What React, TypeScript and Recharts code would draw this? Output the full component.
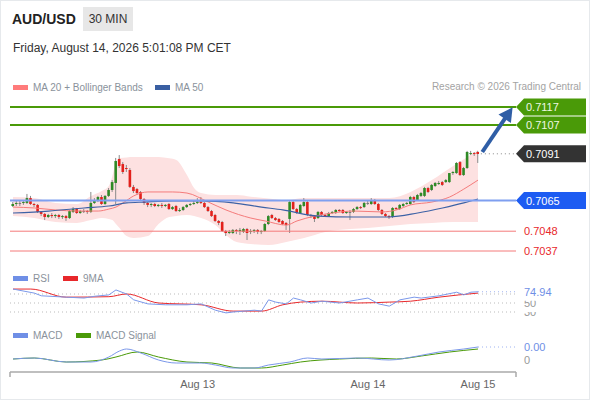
import React from "react";
import { ComposedChart, Bar, Line, Area, XAxis, YAxis, ReferenceLine } from "recharts";

// 30 min candles, [open, high, low, close]
const candles: [number, number, number, number][] = [
  [0.7062, 0.70642, 0.70614, 0.70631],
  [0.70631, 0.70648, 0.7062, 0.70637],
  [0.70637, 0.70653, 0.7062, 0.70637],
  [0.70637, 0.70653, 0.70626, 0.70642],
  [0.70637, 0.70687, 0.70631, 0.70664],
  [0.70664, 0.70676, 0.70626, 0.70631],
  [0.70631, 0.70637, 0.70614, 0.70626],
  [0.70626, 0.70631, 0.70581, 0.70587],
  [0.70587, 0.70592, 0.70564, 0.70576],
  [0.70576, 0.70581, 0.70542, 0.70559],
  [0.70559, 0.70576, 0.70553, 0.7057],
  [0.7057, 0.70581, 0.70553, 0.70564],
  [0.70564, 0.70576, 0.70553, 0.7057],
  [0.7057, 0.70576, 0.70548, 0.70559],
  [0.70559, 0.7057, 0.70548, 0.70564],
  [0.70564, 0.7057, 0.70537, 0.70553],
  [0.70553, 0.70598, 0.70548, 0.70592],
  [0.70587, 0.70614, 0.70581, 0.70603],
  [0.70603, 0.70609, 0.70576, 0.70581],
  [0.70581, 0.70598, 0.70576, 0.70592],
  [0.70592, 0.70603, 0.70581, 0.70592],
  [0.70592, 0.70598, 0.70576, 0.70587],
  [0.70587, 0.70698, 0.70581, 0.70637],
  [0.70637, 0.70664, 0.70631, 0.70653],
  [0.70653, 0.70676, 0.70642, 0.7067],
  [0.7067, 0.70681, 0.70626, 0.70631],
  [0.70631, 0.70681, 0.70626, 0.70676],
  [0.70676, 0.7072, 0.7067, 0.70709],
  [0.70709, 0.70764, 0.70698, 0.70753],
  [0.70748, 0.70887, 0.70631, 0.7087],
  [0.70881, 0.70903, 0.70831, 0.70842],
  [0.70853, 0.70864, 0.70798, 0.70809],
  [0.70831, 0.70848, 0.70809, 0.70826],
  [0.7082, 0.70831, 0.7072, 0.70726],
  [0.70726, 0.70737, 0.70692, 0.70703],
  [0.70714, 0.7072, 0.70681, 0.70692],
  [0.70698, 0.70703, 0.70653, 0.70659],
  [0.70659, 0.70664, 0.70626, 0.70637],
  [0.70637, 0.70642, 0.70614, 0.70626],
  [0.70626, 0.70637, 0.70614, 0.70631],
  [0.70631, 0.70637, 0.70614, 0.7062],
  [0.7062, 0.70631, 0.70614, 0.70626],
  [0.70626, 0.70637, 0.70609, 0.7062],
  [0.7062, 0.70631, 0.70614, 0.70626],
  [0.70631, 0.70637, 0.70598, 0.70603],
  [0.70603, 0.7062, 0.70598, 0.70614],
  [0.7062, 0.70626, 0.70587, 0.70592],
  [0.70592, 0.70609, 0.70587, 0.70598],
  [0.70598, 0.7062, 0.70592, 0.70614],
  [0.70614, 0.70631, 0.70609, 0.70626],
  [0.70626, 0.70637, 0.7062, 0.70631],
  [0.70631, 0.70648, 0.70626, 0.70637],
  [0.70637, 0.70664, 0.70631, 0.70642],
  [0.70642, 0.7067, 0.70631, 0.70637],
  [0.70637, 0.70642, 0.70609, 0.70614],
  [0.70614, 0.7062, 0.70587, 0.70592],
  [0.70592, 0.70598, 0.70559, 0.70564],
  [0.7057, 0.70576, 0.70531, 0.70537],
  [0.70537, 0.70542, 0.70514, 0.70526],
  [0.70531, 0.70537, 0.70476, 0.70481],
  [0.70481, 0.70487, 0.70453, 0.7047],
  [0.7047, 0.70487, 0.70464, 0.70476],
  [0.7047, 0.70492, 0.70464, 0.70487],
  [0.70487, 0.70492, 0.70464, 0.70481],
  [0.70481, 0.70498, 0.70459, 0.70487],
  [0.70476, 0.70498, 0.7047, 0.70492],
  [0.70492, 0.70498, 0.70431, 0.7047],
  [0.70476, 0.70492, 0.70464, 0.70481],
  [0.70481, 0.70492, 0.7047, 0.70487],
  [0.70487, 0.70492, 0.70464, 0.70476],
  [0.70476, 0.70487, 0.70464, 0.70481],
  [0.70481, 0.70526, 0.70476, 0.7052],
  [0.7052, 0.7057, 0.70514, 0.70564],
  [0.7057, 0.70576, 0.70548, 0.70553],
  [0.70553, 0.70559, 0.70537, 0.70542],
  [0.70548, 0.70553, 0.70526, 0.70531],
  [0.70537, 0.70542, 0.70514, 0.7052],
  [0.70526, 0.70531, 0.70487, 0.70514],
  [0.70548, 0.70648, 0.7047, 0.70642],
  [0.70642, 0.70648, 0.70598, 0.70603],
  [0.70603, 0.70609, 0.70576, 0.70581],
  [0.70581, 0.70631, 0.70576, 0.70626],
  [0.7062, 0.70664, 0.70614, 0.70642],
  [0.70642, 0.70648, 0.70564, 0.7057],
  [0.7057, 0.70576, 0.70553, 0.70564],
  [0.70564, 0.7057, 0.70531, 0.70548],
  [0.70553, 0.70592, 0.70548, 0.70587],
  [0.70587, 0.70592, 0.70564, 0.7057],
  [0.7057, 0.70576, 0.70559, 0.70564],
  [0.70564, 0.70587, 0.70559, 0.70581],
  [0.70581, 0.70592, 0.70576, 0.70587],
  [0.70581, 0.70603, 0.70576, 0.70598],
  [0.70598, 0.70603, 0.70587, 0.70592],
  [0.70598, 0.70603, 0.70576, 0.70581],
  [0.70581, 0.70592, 0.70576, 0.70587],
  [0.70587, 0.70598, 0.70542, 0.70587],
  [0.70587, 0.70609, 0.70581, 0.70603],
  [0.70603, 0.7062, 0.70598, 0.70614],
  [0.70614, 0.7062, 0.70603, 0.70609],
  [0.70614, 0.70642, 0.70609, 0.70637],
  [0.70637, 0.70648, 0.70626, 0.70637],
  [0.70631, 0.70664, 0.70626, 0.70653],
  [0.70653, 0.70659, 0.70626, 0.70631],
  [0.70631, 0.70637, 0.70592, 0.70598],
  [0.70598, 0.70603, 0.7057, 0.70576],
  [0.70576, 0.70581, 0.70559, 0.70564],
  [0.70564, 0.7057, 0.70548, 0.70559],
  [0.70559, 0.70614, 0.70553, 0.70609],
  [0.70609, 0.70614, 0.70598, 0.70603],
  [0.70603, 0.70631, 0.70598, 0.70626],
  [0.7062, 0.70637, 0.70614, 0.70631],
  [0.70631, 0.70642, 0.70626, 0.70637],
  [0.70631, 0.70676, 0.70626, 0.7067],
  [0.7067, 0.70676, 0.70637, 0.70642],
  [0.70653, 0.70687, 0.70648, 0.70681],
  [0.70676, 0.70698, 0.7067, 0.70692],
  [0.70676, 0.70726, 0.7067, 0.7072],
  [0.7072, 0.70726, 0.70692, 0.70698],
  [0.70709, 0.70742, 0.70703, 0.70737],
  [0.70731, 0.70753, 0.70726, 0.70748],
  [0.70742, 0.70759, 0.70737, 0.70748],
  [0.70753, 0.70759, 0.70731, 0.70737],
  [0.70753, 0.7077, 0.70748, 0.70764],
  [0.70753, 0.70803, 0.70748, 0.70803],
  [0.70803, 0.70814, 0.70792, 0.70809],
  [0.70803, 0.70864, 0.70798, 0.70859],
  [0.70864, 0.7087, 0.70787, 0.70792],
  [0.70792, 0.70837, 0.70787, 0.70831],
  [0.70831, 0.70926, 0.70826, 0.7092],
  [0.70909, 0.70926, 0.70903, 0.70914],
  [0.70914, 0.7092, 0.70898, 0.70909],
  [0.7092, 0.70926, 0.70859, 0.70909],
];

// Bollinger bands (read at candle indexes)
const bandIdx = [0, 6, 12, 18, 22, 25, 27, 28, 29, 30, 32, 34, 38, 41, 44, 46, 49, 51, 53, 57, 60, 63, 67, 72, 77, 82, 88, 95, 100, 106, 112, 118, 124, 128, 131];
const bandUpper = [0.7067, 0.70664, 0.70637, 0.70631, 0.70676, 0.70703, 0.70731, 0.70787, 0.70864, 0.70887, 0.7089, 0.70892, 0.70892, 0.70892, 0.70885, 0.70876, 0.70792, 0.7072, 0.70692, 0.70681, 0.70681, 0.70681, 0.70672, 0.70662, 0.70653, 0.70664, 0.70664, 0.70664, 0.70664, 0.70664, 0.70698, 0.70764, 0.70842, 0.70892, 0.70931];
const bandLower = [0.70564, 0.70553, 0.70531, 0.70526, 0.70542, 0.70553, 0.70548, 0.70542, 0.7052, 0.70498, 0.70453, 0.70442, 0.70453, 0.7052, 0.70559, 0.70565, 0.7057, 0.70565, 0.70553, 0.70514, 0.70459, 0.7042, 0.70409, 0.70403, 0.7042, 0.70442, 0.70476, 0.70492, 0.70498, 0.70509, 0.7052, 0.70526, 0.70531, 0.70531, 0.70531];

const ma20Idx = [0, 6, 12, 18, 24, 27, 29, 31, 34, 38, 45, 49, 55, 60, 67, 71, 77, 80, 85, 90, 96, 104, 108, 112, 118, 123, 127, 131];
const ma20 = [0.70614, 0.70609, 0.70598, 0.70592, 0.70592, 0.70603, 0.70614, 0.70637, 0.70676, 0.70698, 0.70698, 0.70692, 0.70642, 0.70598, 0.70553, 0.70537, 0.70514, 0.70537, 0.70564, 0.70581, 0.70592, 0.70587, 0.70598, 0.70626, 0.70642, 0.7067, 0.70714, 0.70764];

const ma50Idx = [0, 10, 20, 27, 32, 37, 45, 53, 62, 70, 76, 86, 96, 106, 114, 121, 127, 131];
const ma50 = [0.70581, 0.70592, 0.70609, 0.7062, 0.70637, 0.70642, 0.70648, 0.70648, 0.70637, 0.70614, 0.70598, 0.70564, 0.70559, 0.70559, 0.70581, 0.70609, 0.70637, 0.70659];

const rsiIdx = [0, 6, 8, 15, 20, 23, 27, 29, 32, 34, 38, 43, 49, 53, 57, 60, 62, 68, 70, 72, 74, 77, 79, 81, 84, 87, 92, 97, 100, 103, 106, 109, 113, 115, 120, 125, 127, 129, 131];
const rsi = [81, 72, 66, 63, 61, 65, 68, 79, 70, 57, 48, 46, 46, 48, 34, 28, 30, 34, 32, 57, 52, 48, 61, 57, 50, 54, 50, 57, 61, 48, 43, 57, 63, 61, 66, 74, 68, 74, 74.94];
const rsiMaIdx = [0, 5, 15, 27, 32, 41, 53, 62, 70, 76, 81, 87, 97, 106, 112, 120, 131];
const rsiMa = [81, 81, 63, 64, 70, 50, 46, 32, 32, 46, 52, 54, 50, 52, 54, 63, 72];

const macdIdx = [0, 6, 15, 22, 27, 30, 32, 36, 41, 46, 53, 57, 62, 68, 72, 78, 83, 87, 97, 106, 114, 120, 127, 131];
const macd = [0.00002, 0.00004, -0.00004, -0.00004, 0.00006, 0.00018, 0.00022, 0.00014, 0, -0.00006, -0.00006, -0.0001, -0.00016, -0.00016, -0.0001, -0.00004, 0.00004, 0.00002, 0.00004, 0, 0.00008, 0.00016, 0.00022, 0.00026];
const signalIdx = [0, 6, 15, 25, 29, 35, 41, 49, 56, 64, 70, 76, 81, 92, 101, 108, 115, 123, 131];
const signal = [0.00002, 0.00004, -0.00004, 0, 0.00006, 0.00016, 0.00006, -0.00004, -0.00006, -0.00016, -0.00016, -0.0001, -0.00004, 0.00002, 0.00004, 0.00002, 0.00008, 0.00016, 0.00022];

const resistances = [0.7117, 0.7107];
const pivot = 0.7065;
const supports = [0.7048, 0.7037];
const lastPrice = 0.7091;
const arrowIdx = [132.2, 139];
const arrowVal = [0.7092, 0.71118];

const tickIdx = [52, 100, 131];
const tickLabels = ["Aug 13", "Aug 14", "Aug 15"];

const X_DOMAIN: [number, number] = [-0.85, 141.7];
const FONT = "'Liberation Sans', Arial, sans-serif";

const rows: any[] = candles.map((c, i) => ({ i, range: [c[2], c[1]], o: c[0], c: c[3] }));
const put = (idx: number[], vals: number[], key: string) =>
  idx.forEach((x, k) => {
    rows[x][key] = vals[k];
  });
bandIdx.forEach((x, k) => {
  rows[x].band = [bandLower[k], bandUpper[k]];
});
put(ma20Idx, ma20, "ma20");
put(ma50Idx, ma50, "ma50");
put(rsiIdx, rsi, "rsi");
put(rsiMaIdx, rsiMa, "rsiMa");
put(macdIdx, macd, "macd");
put(signalIdx, signal, "signal");
arrowIdx.forEach((x, k) => rows.push({ i: x, arrow: arrowVal[k] }));

function Candle(p: any) {
  const { x, y, width, height, payload } = p;
  if (!payload || payload.o == null) return <g />;
  const [lo, hi] = payload.range;
  const top = Math.min(y, y + height);
  const h = Math.abs(height);
  const k = hi > lo ? h / (hi - lo) : 0;
  const b1 = top + (hi - Math.max(payload.o, payload.c)) * k;
  const b2 = top + (hi - Math.min(payload.o, payload.c)) * k;
  const cx = x + width / 2;
  const doji = Math.abs(payload.o - payload.c) < 0.00002;
  const fill = doji ? "#777" : payload.c > payload.o ? "#2f8a26" : "#e2211c";
  return (
    <g>
      <line x1={cx} x2={cx} y1={top} y2={top + h} stroke="#8a8a8a" strokeWidth={1} />
      <rect x={cx - 1.3} y={b1} width={2.6} height={Math.max(1, b2 - b1)} fill={fill} />
    </g>
  );
}

const tag = (text: string, bg: string, fg: string) => (p: any) => {
  const vb = p.viewBox || {};
  const x0 = (vb.x || 0) + (vb.width || 0);
  const y0 = vb.y || 0;
  return (
    <g>
      <path d={`M${x0} ${y0}L${x0 + 8} ${y0 - 8.5}H${x0 + 70}V${y0 + 8.5}H${x0 + 8}Z`} fill={bg} />
      <text x={x0 + 10} y={y0} dy="0.36em" fontSize={11} fill={fg} fontFamily={FONT}>
        {text}
      </text>
    </g>
  );
};

const sideText = (text: string, color: string, bg?: boolean) => (p: any) => {
  const vb = p.viewBox || {};
  const x0 = (vb.x || 0) + (vb.width || 0);
  const y0 = vb.y || 0;
  return (
    <g>
      {bg && <rect x={x0 + 3} y={y0 - 9} width={42} height={18} fill="#fff" />}
      <text x={x0 + 8} y={y0} dy="0.36em" fontSize={11} fill={color} fontFamily={FONT}>
        {text}
      </text>
    </g>
  );
};

const ArrowHead = (p: any) => {
  if (!p.payload || p.payload.i !== arrowIdx[1] || p.cx == null) return <g key={p.key} />;
  return (
    <polygon
      key={p.key}
      points="-3,-7.5 11,0 -3,7.5"
      fill="#2f5ea6"
      transform={`translate(${p.cx},${p.cy}) rotate(-55.7)`}
    />
  );
};

const AxisTick = (p: any) => {
  const v = p.payload.value;
  const k = tickIdx.indexOf(v);
  if (k < 0) return <line x1={p.x} x2={p.x} y1={p.y} y2={p.y + 5} stroke="#aaa" strokeWidth={1.5} />;
  return (
    <text x={p.x} y={p.y + 12} dy="0.36em" textAnchor="middle" fontSize={11} fill="#666" fontFamily={FONT}>
      {tickLabels[k]}
    </text>
  );
};

function Legend({ left, top, color, text }: { left: number; top: number; color: string; text: string }) {
  return (
    <div style={{ position: "absolute", left, top, height: 12, display: "flex", alignItems: "center", fontSize: 10, color: "#8a929b" }}>
      <span style={{ width: 15, height: 5, background: color, marginRight: 5 }} />
      <span>{text}</span>
    </div>
  );
}

const margin = { left: 10, right: 74 };

export default function App() {
  return (
    <div style={{ position: "absolute", left: 0, top: 0, width: 588, height: 398, border: "1px solid #e6e9ec", background: "#fff", fontFamily: FONT, overflow: "hidden" }}>
      <div style={{ position: "absolute", left: 11, top: 11, fontSize: 14, lineHeight: "14px", fontWeight: 700, color: "#222" }}>AUD/USD</div>
      <div style={{ position: "absolute", left: 82, top: 6, width: 50, height: 24, background: "#e7e7e7", display: "flex", alignItems: "center", justifyContent: "center", fontSize: 12, color: "#333" }}>30 MIN</div>
      <div style={{ position: "absolute", left: 12, top: 41, fontSize: 12, lineHeight: "12px", color: "#333" }}>Friday, August 14, 2026 5:01:08 PM CET</div>

      <Legend left={12} top={80} color="#ff7b7b" text="MA 20 + Bollinger Bands" />
      <Legend left={154} top={80} color="#3a5fa2" text="MA 50" />
      <div style={{ position: "absolute", right: 8, top: 80, height: 12, lineHeight: "12px", fontSize: 10, color: "#a3a3a3" }}>Research © 2026 Trading Central</div>

      <div style={{ position: "absolute", left: -1, top: 89 }}>
        <ComposedChart width={590} height={176} data={rows} margin={{ ...margin, top: 4.4, bottom: 2.4 }}>
          <XAxis dataKey="i" type="number" domain={X_DOMAIN} hide allowDataOverflow />
          <YAxis domain={[0.703, 0.7124]} hide allowDataOverflow />
          <Area dataKey="band" type="monotone" fill="#fde1e1" fillOpacity={1} stroke="none" connectNulls isAnimationActive={false} />
          <Line dataKey="ma20" type="monotone" stroke="#f47b7b" strokeWidth={1} dot={false} activeDot={false} connectNulls isAnimationActive={false} />
          <Line dataKey="ma50" type="monotone" stroke="#3d62a6" strokeWidth={1.2} dot={false} activeDot={false} connectNulls isAnimationActive={false} />
          {resistances.map((r) => (
            <ReferenceLine key={r} y={r} stroke="#4a9a08" strokeWidth={2} label={tag(r.toFixed(4), "#4a9a08", "#eef7e4")} />
          ))}
          <ReferenceLine y={pivot} stroke="#7f9ff0" strokeWidth={2} label={tag(pivot.toFixed(4), "#1d5cf2", "#ffffff")} />
          {supports.map((s) => (
            <ReferenceLine key={s} y={s} stroke="#f47a7a" strokeWidth={1} label={sideText(s.toFixed(4), "#e8282b")} />
          ))}
          <ReferenceLine
            segment={[{ x: 131.8, y: lastPrice }, { x: X_DOMAIN[1], y: lastPrice }]}
            stroke="#888"
            strokeDasharray="1 3"
            label={tag(lastPrice.toFixed(4), "#333333", "#ffffff")}
          />
          <Bar dataKey="range" barSize={3} shape={(p: any) => <Candle {...p} />} isAnimationActive={false} />
          <Line dataKey="arrow" stroke="#2f5ea6" strokeWidth={4} dot={ArrowHead} activeDot={false} connectNulls isAnimationActive={false} />
        </ComposedChart>
      </div>

      <Legend left={12} top={271} color="#6f8fe6" text="RSI" />
      <Legend left={62} top={271} color="#e8282b" text="9MA" />
      <div style={{ position: "absolute", left: -1, top: 275 }}>
        <ComposedChart width={590} height={54} data={rows} margin={{ ...margin, top: 4.5, bottom: 4.5 }}>
          <XAxis dataKey="i" type="number" domain={X_DOMAIN} hide allowDataOverflow />
          <YAxis domain={[0, 100]} hide allowDataOverflow />
          <ReferenceLine y={70} stroke="#bbb" strokeDasharray="1 3" />
          <ReferenceLine y={30} stroke="#bbb" strokeDasharray="1 3" label={sideText("30", "#999", true)} />
          <ReferenceLine y={50} stroke="#bbb" strokeDasharray="1 3" label={sideText("50", "#999", true)} />
          <ReferenceLine
            segment={[{ x: 131, y: rsi[rsi.length - 1] }, { x: X_DOMAIN[1], y: rsi[rsi.length - 1] }]}
            stroke="#9db1f0"
            strokeDasharray="1 3"
            label={sideText(rsi[rsi.length - 1].toFixed(2), "#6f8fe6", true)}
          />
          <Line dataKey="rsiMa" type="monotone" stroke="#e8282b" strokeWidth={1} dot={false} activeDot={false} connectNulls isAnimationActive={false} />
          <Line dataKey="rsi" type="linear" stroke="#7b98ea" strokeWidth={1} dot={false} activeDot={false} connectNulls isAnimationActive={false} />
        </ComposedChart>
      </div>

      <Legend left={12} top={328} color="#6f8fe6" text="MACD" />
      <Legend left={75} top={328} color="#4a9a08" text="MACD Signal" />
      <div style={{ position: "absolute", left: -1, top: 329 }}>
        <ComposedChart width={590} height={70} data={rows} margin={{ ...margin, top: 10, bottom: 0 }}>
          <XAxis
            dataKey="i"
            type="number"
            domain={X_DOMAIN}
            allowDataOverflow
            ticks={[X_DOMAIN[0], ...tickIdx, X_DOMAIN[1]]}
            interval={0}
            tick={AxisTick}
            tickLine={false}
            tickSize={0}
            tickMargin={0}
            height={28}
            axisLine={{ stroke: "#aaa", strokeWidth: 1.5 }}
          />
          <YAxis domain={[-0.00024, 0.0004]} hide allowDataOverflow />
          <ReferenceLine y={0} stroke="none" label={sideText("0", "#999")} />
          <ReferenceLine
            segment={[{ x: 131, y: macd[macd.length - 1] }, { x: X_DOMAIN[1], y: macd[macd.length - 1] }]}
            stroke="#9db1f0"
            strokeDasharray="1 3"
            label={sideText(macd[macd.length - 1].toFixed(2), "#6f8fe6")}
          />
          <Line dataKey="signal" type="monotone" stroke="#4a9a08" strokeWidth={1} dot={false} activeDot={false} connectNulls isAnimationActive={false} />
          <Line dataKey="macd" type="monotone" stroke="#7b98ea" strokeWidth={1} dot={false} activeDot={false} connectNulls isAnimationActive={false} />
        </ComposedChart>
      </div>
    </div>
  );
}
